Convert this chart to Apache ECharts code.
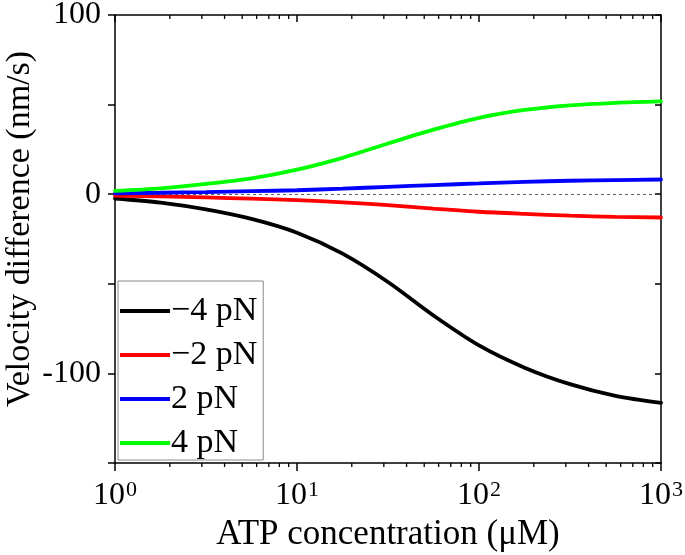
<!DOCTYPE html>
<html>
<head>
<meta charset="utf-8">
<script src="https://cdn.jsdelivr.net/npm/echarts@6/dist/echarts.min.js"></script>
<style>
html,body{margin:0;padding:0;background:#fff;}
#main{width:685px;height:555px;}
</style>
</head>
<body>
<div id="main"></div>
<script>
// ATP concentration (µM)
const atp = [1, 1.78, 3.16, 5.62, 10, 17.8, 31.6, 56.2, 100, 178, 316, 562, 1000];
// Velocity difference (nm/s)
const minus4 = [-2.4, -4.7, -8.5, -13.8, -21.5, -33.2, -49.0, -67.7, -84.4, -96.8, -106.0, -112.5, -116.4];
const minus2 = [-0.8, -1.2, -1.8, -2.5, -3.3, -4.6, -6.1, -8.0, -9.8, -11.0, -12.0, -12.6, -13.0];
const plus2  = [0.5, 0.8, 1.2, 1.7, 2.2, 3.1, 4.1, 5.1, 6.0, 6.9, 7.5, 7.9, 8.2];
const plus4  = [1.8, 3.2, 5.7, 8.8, 13.7, 20.3, 28.3, 36.0, 42.6, 47.0, 49.6, 51.0, 51.8];
const seriesNames = ['\u22124 pN', '\u22122 pN', '2 pN', '4 pN'];
const seriesColors = ['#000000', '#ff0000', '#0000ff', '#00ff00'];
const yLabelValues = [-100, 0, 100];
const xMinorTicks = [2, 3, 4, 5, 6, 7, 8, 9, 20, 30, 40, 50, 60, 70, 80, 90, 200, 300, 400, 500, 600, 700, 800, 900];

const FONT = 'Liberation Serif';
const pair = (ys) => atp.map((x, i) => [x, ys[i]]);
const allY = [minus4, minus2, plus2, plus4];

const chart = echarts.init(document.getElementById('main'), null, {renderer: 'canvas'});

const lineSeries = allY.map((ys, i) => ({
  name: seriesNames[i],
  type: 'line',
  data: pair(ys),
  smooth: 0.3,
  showSymbol: false,
  symbol: 'none',
  lineStyle: {color: seriesColors[i], width: 3.8, cap: 'round'},
  itemStyle: {color: seriesColors[i]},
  z: 3 + i,
  silent: true
}));
lineSeries[0].markLine = {
  silent: true,
  symbol: 'none',
  label: {show: false},
  lineStyle: {type: [3, 3], color: '#333', width: 0.8},
  data: [{yAxis: 0}]
};

const option = {
  animation: false,
  backgroundColor: '#fff',
  grid: {left: 115, right: 24, top: 15, bottom: 92, containLabel: false, outerBoundsMode: 'none'},
  xAxis: [
    {
      type: 'log', logBase: 10, min: 1, max: 1000, position: 'bottom',
      axisLine: {show: true, onZero: false, lineStyle: {color: '#000', width: 1.5}},
      axisTick: {show: true, inside: false, length: 8, lineStyle: {color: '#000', width: 1.5}},
      splitLine: {show: false},
      axisLabel: {
        margin: 16,
        formatter: (v) => '{b|10}{s|' + Math.round(Math.log10(v)) + '}',
        rich: {
          b: {fontFamily: FONT, fontSize: 32, color: '#000'},
          s: {fontFamily: FONT, fontSize: 22, color: '#000', verticalAlign: 'top', padding: [0, 0, 12, 1]}
        }
      },
      name: 'ATP concentration (\u03BCM)',
      nameLocation: 'middle',
      nameGap: 48,
      nameTextStyle: {fontFamily: FONT, fontSize: 35, color: '#000'}
    },
    {
      type: 'log', logBase: 10, min: 1, max: 1000, position: 'top',
      axisLine: {show: true, onZero: false, lineStyle: {color: '#000', width: 1.5}},
      axisTick: {show: true, inside: true, length: 7, lineStyle: {color: '#000', width: 1.5}},
      axisLabel: {show: false},
      splitLine: {show: false}
    }
  ],
  yAxis: [
    {
      type: 'value', min: -150, max: 100, interval: 50, position: 'left',
      axisLine: {show: true, onZero: false, lineStyle: {color: '#000', width: 1.5}},
      axisTick: {show: true, inside: false, length: 7, lineStyle: {color: '#000', width: 1.5}},
      splitLine: {show: false},
      axisLabel: {
        margin: 14,
        fontFamily: FONT, fontSize: 32, color: '#000',
        formatter: (v) => yLabelValues.indexOf(v) >= 0 ? String(v) : ''
      }
    },
    {
      type: 'value', min: -150, max: 100, interval: 50, position: 'right',
      axisLine: {show: true, onZero: false, lineStyle: {color: '#000', width: 1.5}},
      axisTick: {show: true, inside: true, length: 6, lineStyle: {color: '#000', width: 1.5}},
      axisLabel: {show: false},
      splitLine: {show: false}
    }
  ],
  legend: {
    data: seriesNames,
    orient: 'vertical',
    left: 118, top: 281,
    padding: [13, 6, 0, 2],
    itemGap: 10,
    itemWidth: 50,
    itemHeight: 4,
    icon: 'rect',
    borderColor: '#8a8a8a',
    borderWidth: 1,
    backgroundColor: '#fff',
    selectedMode: false,
    textStyle: {fontFamily: FONT, fontSize: 34, color: '#000', padding: [0, 0, 0, -4], lineHeight: 34}
  },
  graphic: [
    {
      type: 'text',
      x: 20, y: 229,
      rotation: Math.PI / 2,
      style: {
        text: 'Velocity difference (nm/s)',
        font: '34px "Liberation Serif"',
        fill: '#000',
        align: 'center',
        verticalAlign: 'middle'
      }
    }
  ],
  series: lineSeries.concat([
    {
      type: 'custom',
      name: 'minorTicks',
      silent: true,
      clip: false,
      xAxisIndex: 0, yAxisIndex: 0,
      data: xMinorTicks.map(v => [v, 0]),
      renderItem: function (params, api) {
        const x = api.coord([api.value(0), 0])[0];
        const cs = params.coordSys;
        const bottom = cs.y + cs.height;
        return {
          type: 'group',
          children: [
            {type: 'line', shape: {x1: x, y1: bottom, x2: x, y2: bottom + 4}, style: {stroke: '#000', lineWidth: 1.3}},
            {type: 'line', shape: {x1: x, y1: cs.y, x2: x, y2: cs.y + 4}, style: {stroke: '#000', lineWidth: 1.3}}
          ]
        };
      },
      z: 10
    }
  ])
};
chart.setOption(option);
</script>
</body>
</html>
